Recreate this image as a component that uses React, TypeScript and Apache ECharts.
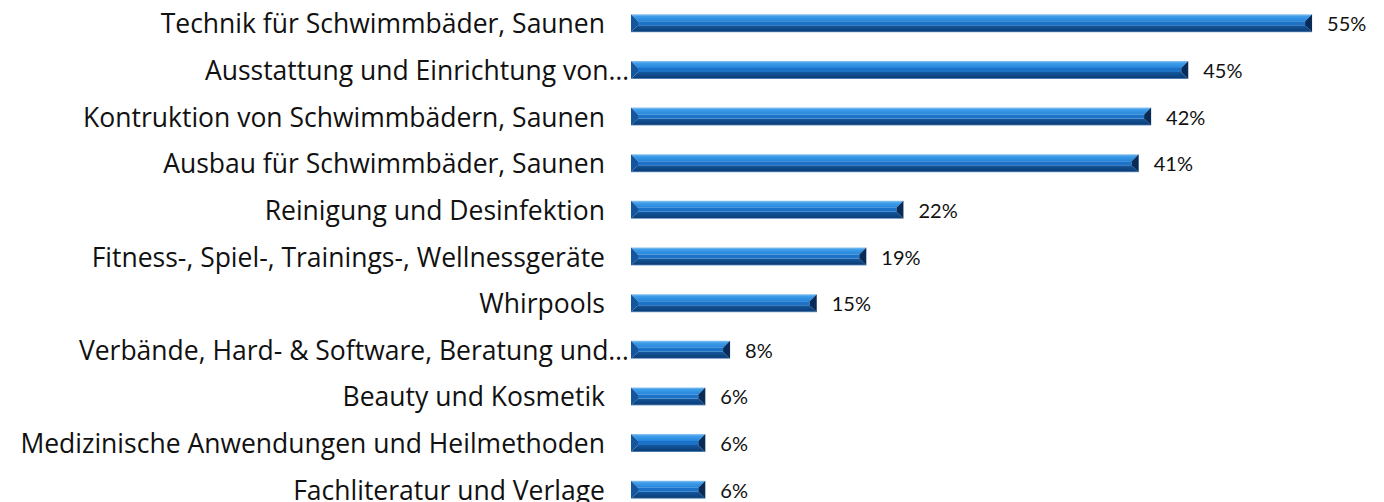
import React, { useEffect, useRef } from "react";
import * as echarts from "echarts";

const categories = [
  "Technik für Schwimmbäder, Saunen",
  "Ausstattung und Einrichtung von…",
  "Kontruktion von Schwimmbädern, Saunen",
  "Ausbau für Schwimmbäder, Saunen",
  "Reinigung und Desinfektion",
  "Fitness-, Spiel-, Trainings-, Wellnessgeräte",
  "Whirpools",
  "Verbände, Hard- & Software, Beratung und…",
  "Beauty und Kosmetik",
  "Medizinische Anwendungen und Heilmethoden",
  "Fachliteratur und Verlage",
];
const values = [55, 45, 42, 41, 22, 19, 15, 8, 6, 6, 6];

const BAR_H = 18;

function renderBevelBar(params: any, api: any) {
  const v = api.value(0);
  const idx = api.value(1);
  const start = api.coord([0, idx]);
  const end = api.coord([v, idx]);
  const x0 = start[0];
  const x1 = end[0];
  const y0 = start[1] - BAR_H / 2;
  const y1 = start[1] + BAR_H / 2;
  const w = x1 - x0;
  const b = Math.min(7, w / 2);
  const top = new echarts.graphic.LinearGradient(0, 0, 0, 1, [
    { offset: 0, color: "#8cc4f2" },
    { offset: 0.3, color: "#3f9de8" },
    { offset: 1, color: "#2385dc" },
  ]);
  const bottom = new echarts.graphic.LinearGradient(0, 0, 0, 1, [
    { offset: 0, color: "#14589f" },
    { offset: 0.8, color: "#0c3f78" },
    { offset: 1, color: "#6d9ccc" },
  ]);
  return {
    type: "group",
    children: [
      {
        type: "polygon",
        shape: { points: [[x0, y0], [x1, y0], [x1 - b, y0 + b], [x0 + b, y0 + b]] },
        style: { fill: top },
      },
      {
        type: "polygon",
        shape: { points: [[x0, y1], [x1, y1], [x1 - b, y1 - b], [x0 + b, y1 - b]] },
        style: { fill: bottom },
      },
      {
        type: "rect",
        shape: { x: x0 + b, y: y0 + b, width: Math.max(0, w - 2 * b), height: BAR_H - 2 * b },
        style: { fill: "#1b72c6" },
      },
      {
        type: "polygon",
        shape: { points: [[x0, y0], [x0 + b, y0 + b], [x0 + b, y1 - b], [x0, y1]] },
        style: { fill: "#13569e" },
      },
      {
        type: "polygon",
        shape: { points: [[x1, y0], [x1 - b, y0 + b], [x1 - b, y1 - b], [x1, y1]] },
        style: { fill: "#082c57" },
      },
    ],
  };
}

export default function App() {
  const ref = useRef<HTMLDivElement>(null);
  useEffect(() => {
    if (!ref.current) return;
    const chart = echarts.init(ref.current, undefined, { renderer: "svg" });
    chart.setOption({
      animation: false,
      grid: { left: 631, right: 10, top: 0, bottom: 0, containLabel: false },
      xAxis: {
        type: "value",
        min: 0,
        max: 60,
        show: false,
      },
      yAxis: {
        type: "category",
        inverse: true,
        data: categories,
        axisLine: { show: false },
        axisTick: { show: false },
        splitLine: { show: false },
        axisLabel: {
          margin: 2,
          formatter: (v: string) => (v.endsWith("…") ? `{t|${v}}` : `{t|${v}}{s| }`),
          rich: {
            t: { fontFamily: "Open Sans", fontSize: 26.5, color: "#111" },
            s: { width: 24, fontSize: 22 },
          },
        },
      },
      series: [
        {
          type: "bar",
          data: values,
          barWidth: BAR_H,
          itemStyle: { color: "rgba(0,0,0,0)" },
          label: {
            show: true,
            position: "right",
            distance: 15,
            formatter: "{c}%",
            fontFamily: "Lato",
            fontSize: 20,
            color: "#111",
          },
        },
        {
          type: "custom",
          data: values.map((v, i) => [v, i]),
          encode: { x: 0, y: 1 },
          renderItem: renderBevelBar,
        },
      ],
    });
    return () => chart.dispose();
  }, []);
  return (
    <div style={{ position: "fixed", left: 0, top: 0, width: 1384, height: 502, overflow: "hidden", background: "#fff" }}>
      <div ref={ref} style={{ width: 1384, height: 513 }} />
    </div>
  );
}
